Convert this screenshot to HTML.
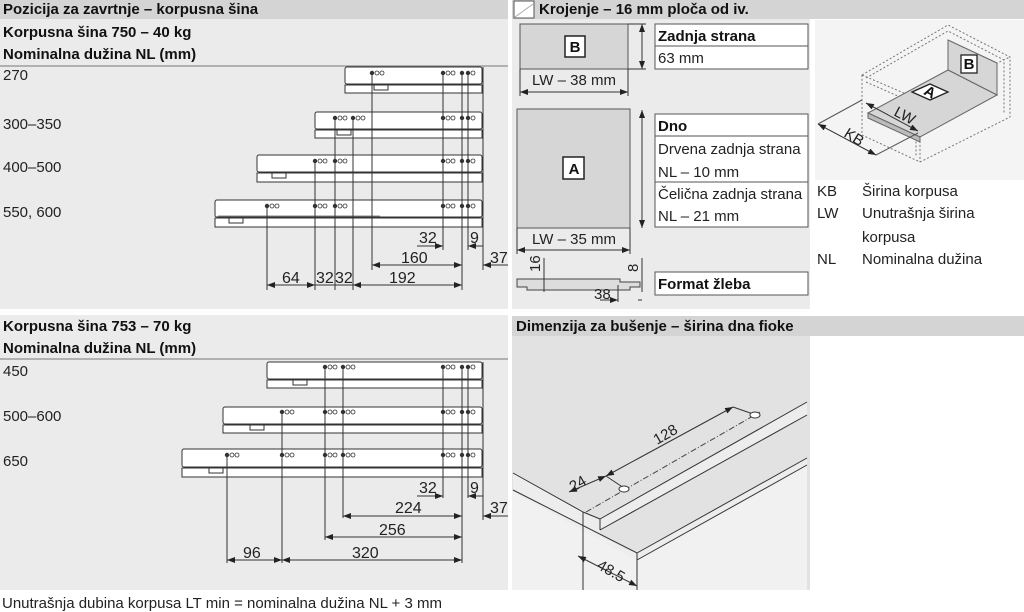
<!DOCTYPE html>
<html><head><meta charset="utf-8"><style>
html,body{margin:0;padding:0;background:#fff;}
svg{display:block;font-family:"Liberation Sans",sans-serif;}
.t{font-size:15px;fill:#222}
.b{font-size:15px;font-weight:bold;fill:#111}
.d{font-size:16px;fill:#222}
.ln{stroke:#333;stroke-width:1;fill:none}
</style></head><body>
<svg width="1024" height="612" viewBox="0 0 1024 612">
<defs>
<marker id="a" markerWidth="8" markerHeight="6" refX="8" refY="3" orient="auto-start-reverse" markerUnits="userSpaceOnUse"><path d="M0,0 L8,3 L0,6z" fill="#222"/></marker>
<g id="h"><circle cx="0" cy="0" r="2.2" fill="#333"/><circle cx="5" cy="0" r="2" fill="#fff" stroke="#333" stroke-width="0.8"/><circle cx="10" cy="0" r="2" fill="#fff" stroke="#333" stroke-width="0.8"/></g>
<g id="h2"><circle cx="0" cy="0" r="2.2" fill="#333"/><circle cx="6" cy="0" r="2.2" fill="#333"/><circle cx="11" cy="0" r="2" fill="#fff" stroke="#333" stroke-width="0.8"/></g>
</defs>
<!-- left panels -->
<rect x="0" y="0" width="508" height="309" fill="#ebebeb"/>
<rect x="0" y="0" width="508" height="19" fill="#d4d4d4"/>
<rect x="0" y="315" width="508" height="275" fill="#ebebeb"/>
<text x="3" y="14" class="b">Pozicija za zavrtnje – korpusna šina</text>
<text x="3" y="37" class="b">Korpusna šina 750 – 40 kg</text>
<text x="3" y="59" class="b">Nominalna dužina NL (mm)</text>
<line x1="0" y1="66" x2="508" y2="66" stroke="#777"/>
<text x="3" y="80" class="t">270</text>
<text x="3" y="129" class="t">300–350</text>
<text x="3" y="172" class="t">400–500</text>
<text x="3" y="217" class="t">550, 600</text>

<g stroke="#333" fill="#fff" stroke-width="1">
<rect x="345" y="67" width="137" height="17" rx="2"/><rect x="345" y="85" width="137" height="8"/>
<rect x="315" y="112" width="167" height="17" rx="2"/><rect x="315" y="130" width="167" height="8"/>
<rect x="257" y="155" width="225" height="17" rx="2"/><rect x="257" y="173" width="225" height="9"/>
<rect x="215" y="200" width="267" height="17" rx="2"/><rect x="215" y="218" width="267" height="9"/>
<rect x="374" y="85" width="14" height="5"/><rect x="337" y="130" width="14" height="5"/><rect x="272" y="173" width="14" height="5"/><rect x="229" y="218" width="14" height="5"/>
</g>
<line x1="218" y1="216" x2="380" y2="216" stroke="#888"/>
<use href="#h" x="372" y="73"/><use href="#h" x="443" y="73"/><use href="#h2" x="462" y="73"/>
<use href="#h" x="335" y="118"/><use href="#h" x="353" y="118"/><use href="#h" x="443" y="118"/><use href="#h2" x="462" y="118"/>
<use href="#h" x="315" y="161"/><use href="#h" x="335" y="161"/><use href="#h" x="443" y="161"/><use href="#h2" x="462" y="161"/>
<use href="#h" x="267" y="206"/><use href="#h" x="315" y="206"/><use href="#h" x="335" y="206"/><use href="#h" x="443" y="206"/><use href="#h2" x="462" y="206"/>
<g class="ln">
<line x1="372" y1="73" x2="372" y2="270"/><line x1="443" y1="73" x2="443" y2="250"/><line x1="462" y1="73" x2="462" y2="290"/><line x1="468" y1="73" x2="468" y2="250"/><line x1="483" y1="67" x2="483" y2="270"/>
<line x1="353" y1="118" x2="353" y2="290"/><line x1="335" y1="118" x2="335" y2="290"/><line x1="315" y1="161" x2="315" y2="290"/><line x1="267" y1="206" x2="267" y2="290"/>
<line x1="417" y1="246" x2="443" y2="246" marker-end="url(#a)"/><line x1="483" y1="246" x2="468" y2="246" marker-end="url(#a)"/>
<line x1="372" y1="265" x2="462" y2="265" marker-start="url(#a)" marker-end="url(#a)"/><line x1="508" y1="265" x2="483" y2="265" marker-end="url(#a)"/>
<line x1="267" y1="285" x2="315" y2="285" marker-start="url(#a)" marker-end="url(#a)"/><line x1="353" y1="285" x2="462" y2="285" marker-start="url(#a)" marker-end="url(#a)"/><line x1="315" y1="285" x2="353" y2="285"/>
</g>
<text x="419" y="243" class="d">32</text><text x="470" y="243" class="d">9</text>
<text x="401" y="263" class="d">160</text><text x="490" y="263" class="d">37</text>
<text x="282" y="283" class="d">64</text><text x="316" y="283" class="d">32</text><text x="335" y="283" class="d">32</text><text x="389" y="283" class="d">192</text>

<text x="3" y="331" class="b">Korpusna šina 753 – 70 kg</text>
<text x="3" y="353" class="b">Nominalna dužina NL (mm)</text>
<line x1="0" y1="359" x2="508" y2="359" stroke="#777"/>
<text x="3" y="376" class="t">450</text>
<text x="3" y="421" class="t">500–600</text>
<text x="3" y="466" class="t">650</text>
<g stroke="#333" fill="#fff" stroke-width="1">
<rect x="267" y="362" width="215" height="17" rx="2"/><rect x="267" y="380" width="215" height="8"/>
<rect x="223" y="407" width="259" height="17" rx="2"/><rect x="223" y="425" width="259" height="8"/>
<rect x="182" y="449" width="300" height="18" rx="2"/><rect x="182" y="468" width="300" height="9"/>
<rect x="293" y="380" width="14" height="5"/><rect x="250" y="425" width="14" height="5"/><rect x="209" y="468" width="14" height="5"/>
</g>
<use href="#h" x="325" y="367"/><use href="#h" x="343" y="367"/><use href="#h" x="443" y="367"/><use href="#h2" x="462" y="367"/>
<use href="#h" x="282" y="412"/><use href="#h" x="325" y="412"/><use href="#h" x="343" y="412"/><use href="#h" x="443" y="412"/><use href="#h2" x="462" y="412"/>
<use href="#h" x="227" y="455"/><use href="#h" x="282" y="455"/><use href="#h" x="325" y="455"/><use href="#h" x="343" y="455"/><use href="#h" x="443" y="455"/><use href="#h2" x="462" y="455"/>
<g class="ln">
<line x1="325" y1="367" x2="325" y2="540"/><line x1="343" y1="367" x2="343" y2="518"/><line x1="443" y1="367" x2="443" y2="498"/><line x1="462" y1="367" x2="462" y2="563"/><line x1="468" y1="367" x2="468" y2="498"/><line x1="483" y1="362" x2="483" y2="520"/>
<line x1="282" y1="412" x2="282" y2="563"/><line x1="227" y1="455" x2="227" y2="563"/>
<line x1="417" y1="496" x2="443" y2="496" marker-end="url(#a)"/><line x1="483" y1="496" x2="468" y2="496" marker-end="url(#a)"/>
<line x1="343" y1="516" x2="462" y2="516" marker-start="url(#a)" marker-end="url(#a)"/><line x1="508" y1="516" x2="483" y2="516" marker-end="url(#a)"/>
<line x1="325" y1="537" x2="462" y2="537" marker-start="url(#a)" marker-end="url(#a)"/>
<line x1="227" y1="560" x2="282" y2="560" marker-start="url(#a)" marker-end="url(#a)"/><line x1="282" y1="560" x2="462" y2="560" marker-start="url(#a)" marker-end="url(#a)"/>
</g>
<text x="419" y="493" class="d">32</text><text x="470" y="493" class="d">9</text>
<text x="395" y="513" class="d">224</text><text x="490" y="513" class="d">37</text>
<text x="379" y="535" class="d">256</text>
<text x="243" y="558" class="d">96</text><text x="352" y="558" class="d">320</text>
<text x="2" y="608" class="t">Unutrašnja dubina korpusa LT min = nominalna dužina NL + 3 mm</text>

<!-- right top -->
<rect x="512" y="0" width="512" height="19" fill="#d4d4d4"/>
<rect x="514" y="1" width="20" height="17" fill="#fff" stroke="#555"/>
<path d="M515,17 L533,4" stroke="#aaa"/>
<text x="539" y="14" class="b">Krojenje – 16 mm ploča od iv.</text>
<rect x="512" y="19" width="298" height="290" fill="#ebebeb"/>
<rect x="520" y="24" width="108" height="45" fill="#d6d6d6" stroke="#555"/>
<rect x="565" y="36" width="20" height="21" fill="#fff" stroke="#222" stroke-width="1.5"/>
<text x="575" y="52" class="b" text-anchor="middle">B</text>
<line x1="642" y1="24" x2="642" y2="69" class="ln" marker-start="url(#a)" marker-end="url(#a)"/>
<line x1="628" y1="69" x2="646" y2="69" class="ln"/><line x1="628" y1="24" x2="646" y2="24" class="ln"/>
<text x="574" y="85" class="t" text-anchor="middle">LW – 38 mm</text>
<line x1="520" y1="92" x2="628" y2="92" class="ln" marker-start="url(#a)" marker-end="url(#a)"/>
<line x1="520" y1="69" x2="520" y2="96" class="ln"/><line x1="628" y1="69" x2="628" y2="96" class="ln"/>
<rect x="655" y="24" width="153" height="45" fill="#fff" stroke="#555"/><line x1="655" y1="46" x2="808" y2="46" stroke="#555"/>
<text x="658" y="41" class="b">Zadnja strana</text><text x="658" y="63" class="t">63 mm</text>

<rect x="517" y="109" width="113" height="119" fill="#d6d6d6" stroke="#555"/>
<rect x="563" y="157" width="21" height="22" fill="#fff" stroke="#222" stroke-width="1.5"/>
<text x="574" y="174" class="b" text-anchor="middle">A</text>
<line x1="642" y1="110" x2="642" y2="228" class="ln" marker-start="url(#a)" marker-end="url(#a)"/>
<text x="574" y="244" class="t" text-anchor="middle">LW – 35 mm</text>
<line x1="517" y1="250" x2="630" y2="250" class="ln" marker-start="url(#a)" marker-end="url(#a)"/>
<line x1="517" y1="228" x2="517" y2="254" class="ln"/><line x1="630" y1="228" x2="630" y2="254" class="ln"/>
<rect x="655" y="114" width="153" height="113" fill="#fff" stroke="#555"/>
<line x1="655" y1="136" x2="808" y2="136" stroke="#555"/><line x1="655" y1="182" x2="808" y2="182" stroke="#555"/>
<text x="658" y="131" class="b">Dno</text>
<text x="658" y="154" class="t">Drvena zadnja strana</text><text x="658" y="177" class="t">NL – 10 mm</text>
<text x="658" y="199" class="t">Čelična zadnja strana</text><text x="658" y="221" class="t">NL – 21 mm</text>
<path d="M517,279 L620,279 L620,282 L640,282 L640,287 L630,287 L630,290 L527,290 L527,287 L517,287 Z" fill="#ddd" stroke="#444"/>
<line x1="544" y1="258" x2="544" y2="292" class="ln"/><line x1="642" y1="258" x2="642" y2="292" class="ln"/>
<line x1="618" y1="285" x2="618" y2="302" class="ln"/>
<line x1="600" y1="300" x2="618" y2="300" class="ln" marker-end="url(#a)"/><line x1="638" y1="300" x2="642" y2="300" class="ln"/>
<text transform="translate(540,272) rotate(-90)" class="t" font-size="13">16</text>
<text transform="translate(638,272) rotate(-90)" class="t" font-size="13">8</text>
<text x="594" y="299" class="t">38</text>
<rect x="655" y="272" width="153" height="23" fill="#fff" stroke="#555"/>
<text x="658" y="289" class="b">Format žleba</text>

<!-- 3D box -->
<rect x="815" y="20" width="209" height="160" fill="#f4f4f4"/>
<g fill="none" stroke="#777" stroke-dasharray="2,2">
<path d="M862,75 L948,25 L1010,57 L1010,117 L920,162 L862,135 Z"/>
<path d="M866,78 L948,31 L1004,60 L1004,114"/>
<path d="M862,75 L920,100 L920,162"/><path d="M866,82 L916,104 L916,156"/>
<path d="M920,100 L1010,57"/>
</g>
<polygon points="948,40 997,63 997,95 948,70" fill="#d6d6d6" stroke="#666"/>
<polygon points="868,113 920,137 997,95 948,70" fill="#d6d6d6" stroke="#666"/>
<polygon points="868,113 920,137 920,142 868,118" fill="#bbb" stroke="#666"/>
<polygon points="912,92 930,84 948,92 930,100" fill="#fff" stroke="#222" stroke-width="1.3"/>
<text x="930" y="97" class="b" font-size="12" text-anchor="middle" transform="rotate(28 930 92)">A</text>
<rect x="961" y="55" width="16" height="18" fill="#fff" stroke="#222" stroke-width="1.3"/>
<text x="969" y="69" class="b" font-size="12" text-anchor="middle">B</text>
<line x1="866" y1="103" x2="918" y2="131" class="ln" marker-start="url(#a)" marker-end="url(#a)"/>
<text x="893" y="115" class="t" transform="rotate(28 893 115)">LW</text>
<line x1="818" y1="124" x2="876" y2="155" class="ln" marker-start="url(#a)" marker-end="url(#a)"/>
<line x1="818" y1="124" x2="862" y2="100" stroke="#555"/><line x1="876" y1="155" x2="918" y2="133" stroke="#555"/>
<text x="843" y="136" class="t" transform="rotate(32 843 136)">KB</text>
<text x="817" y="196" class="t">KB</text><text x="862" y="196" class="t">Širina korpusa</text>
<text x="817" y="218" class="t">LW</text><text x="862" y="218" class="t">Unutrašnja širina</text>
<text x="862" y="242" class="t">korpusa</text>
<text x="817" y="264" class="t">NL</text><text x="862" y="264" class="t">Nominalna dužina</text>

<!-- right bottom -->
<rect x="512" y="316" width="512" height="20" fill="#d4d4d4"/>
<text x="516" y="331" class="b">Dimenzija za bušenje – širina dna fioke</text>
<rect x="512" y="336" width="298" height="254" fill="#e2e2e2"/>
<polygon points="512,490 637,555 807,460 807,590 512,590" fill="#f1f1f1"/>
<polygon points="513,473 583,512 600,519 807,402 807,415 600,530 600,540 637,553 807,458 807,465 637,560 513,492" fill="#ededed"/>
<g class="ln">
<line x1="513" y1="473" x2="583" y2="512"/><line x1="583" y1="512" x2="600" y2="519"/>
<line x1="600" y1="519" x2="807" y2="402"/>
<line x1="600" y1="519" x2="600" y2="530"/>
<line x1="600" y1="530" x2="807" y2="415"/>
<line x1="513" y1="490" x2="637" y2="553"/>
<line x1="637" y1="553" x2="807" y2="458"/>
<line x1="637" y1="560" x2="807" y2="465"/>
<line x1="637" y1="553" x2="637" y2="590"/>
<line x1="583" y1="512" x2="583" y2="590"/>
<line x1="578" y1="556" x2="637" y2="586" marker-start="url(#a)" marker-end="url(#a)"/>
<line x1="569" y1="492" x2="606" y2="476" marker-start="url(#a)" marker-end="url(#a)"/>
<line x1="606" y1="476" x2="733" y2="407" marker-start="url(#a)" marker-end="url(#a)"/>
<line x1="733" y1="407" x2="756" y2="415"/><line x1="606" y1="476" x2="624" y2="488"/>
</g>
<line x1="586" y1="512" x2="760" y2="412" stroke="#444" stroke-dasharray="6,2,1,2"/>
<ellipse cx="624" cy="489" rx="5" ry="3" fill="#fff" stroke="#333"/>
<ellipse cx="755" cy="415" rx="5" ry="3" fill="#fff" stroke="#333"/>
<text x="573" y="492" class="t" transform="rotate(-30 573 492)">24</text>
<text x="657" y="445" class="t" transform="rotate(-30 657 445)">128</text>
<text x="596" y="568" class="t" transform="rotate(30 596 568)">48.5</text>
</svg>
</body></html>
